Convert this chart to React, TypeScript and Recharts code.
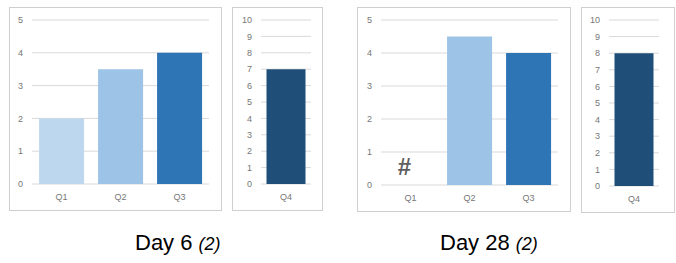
import { BarChart, Bar, XAxis, YAxis, CartesianGrid, Cell, ReferenceDot } from "recharts"

const quarters = ["Q1", "Q2", "Q3"]
const lastQuarter = ["Q4"]
const day6Values = [2, 3.5, 4]
const day6Q4 = [7]
const day28Values = [0, 4.5, 4]
const day28Note = { name: "Q1", text: "#" }
const day28Q4 = [8]
const smallTicks = [0, 1, 2, 3, 4, 5]
const bigTicks = [0, 1, 2, 3, 4, 5, 6, 7, 8, 9, 10]
const captions = ["Day 6", "Day 28"]
const captionNote = "(2)"

const qColors = ["#BDD7EE", "#9DC3E6", "#2E75B6"]
const q4Color = "#1F4E79"
const gridColor = "#D9D9D9"
const textColor = "#767676"
const font = "'Liberation Sans', Arial, sans-serif"

const tick = { fill: textColor, fontSize: 9, fontFamily: font }

interface PanelProps {
  left: number
  top: number
  width: number
  height: number
  data: any[]
  ticks: number[]
  max: number
  yWidth: number
  marginRight: number
  colors: string[]
  gap: string
  note?: { name: string; text: string }
}

function Panel({ left, top, width, height, data, ticks, max, yWidth, marginRight, colors, gap, note }: PanelProps) {
  return (
    <div
      style={{
        position: "absolute",
        left,
        top,
        width: width - 2,
        height: height - 2,
        border: "1px solid #CFCFCF",
        background: "#fff",
      }}
    >
      <BarChart
        width={width - 2}
        height={height - 2}
        data={data}
        margin={{ top: 12, right: marginRight, left: 0, bottom: 0 }}
        barCategoryGap={gap}
      >
        <CartesianGrid horizontal vertical={false} stroke={gridColor} />
        <XAxis dataKey="name" tick={tick} axisLine={false} tickLine={false} tickMargin={4} height={26} />
        <YAxis
          domain={[0, max]}
          ticks={ticks}
          interval={0}
          tick={tick}
          axisLine={false}
          tickLine={false}
          width={yWidth}
          tickMargin={3}
        />
        <Bar dataKey="value" isAnimationActive={false}>
          {data.map((_, i) => (
            <Cell key={i} fill={colors[i]} />
          ))}
        </Bar>
        {note && (
          <ReferenceDot
            x={note.name}
            y={0}
            r={0}
            ifOverflow="visible"
            shape={(p: any) => (
              <text x={p.cx - 6} y={p.cy - 10} textAnchor="middle" fill="#5F5F5F" fontSize={24} fontWeight="bold" fontFamily={font}>
                {note.text}
              </text>
            )}
          />
        )}
      </BarChart>
    </div>
  )
}

export default function App() {
  const day6 = quarters.map((name, i) => ({ name, value: day6Values[i] }))
  const day6b = lastQuarter.map((name, i) => ({ name, value: day6Q4[i] }))
  const day28 = quarters.map((name, i) => ({ name, value: day28Values[i] }))
  const day28b = lastQuarter.map((name, i) => ({ name, value: day28Q4[i] }))

  return (
    <div style={{ position: "absolute", left: 0, top: 0, width: 676, height: 263, background: "#fff", fontFamily: font }}>
      <Panel left={9} top={7} width={213} height={204} data={day6} ticks={smallTicks} max={5} yWidth={22} marginRight={12} colors={qColors} gap="12%" />
      <Panel left={232} top={7} width={91} height={204} data={day6b} ticks={bigTicks} max={10} yWidth={28} marginRight={11} colors={[q4Color]} gap="11%" />
      <Panel left={357} top={7} width={214} height={205} data={day28} ticks={smallTicks} max={5} yWidth={23} marginRight={12} colors={qColors} gap="12%" note={day28Note} />
      <Panel left={581} top={7} width={94} height={206} data={day28b} ticks={bigTicks} max={10} yWidth={27} marginRight={15} colors={[q4Color]} gap="11%" />
      <div style={{ position: "absolute", left: 135, top: 230, fontSize: 22, color: "#000", whiteSpace: "nowrap" }}>
        {captions[0]} <i style={{ fontSize: 18 }}>{captionNote}</i>
      </div>
      <div style={{ position: "absolute", left: 440, top: 230, fontSize: 22, color: "#000", whiteSpace: "nowrap" }}>
        {captions[1]} <i style={{ fontSize: 18 }}>{captionNote}</i>
      </div>
    </div>
  )
}
